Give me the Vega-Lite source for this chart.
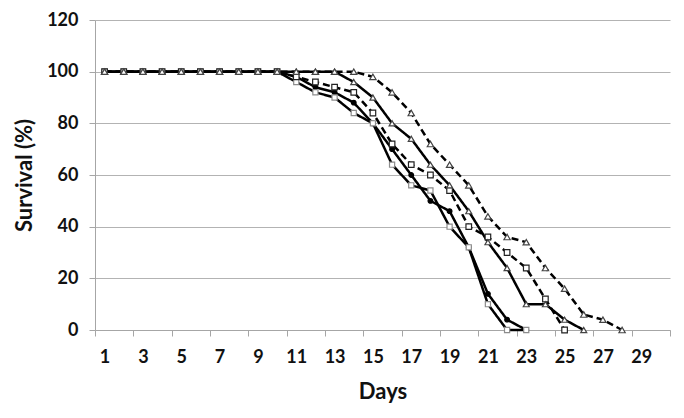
{
  "$schema": "https://vega.github.io/schema/vega-lite/v6.json",
  "width": 575,
  "height": 310,
  "autosize": "none",
  "padding": {"left": 95, "top": 20, "right": 14, "bottom": 88},
  "background": "white",
  "config": {"view": {"stroke": null}, "font": "Lato"},
  "datasets": {
    "surv": [
      {"day":1,"s":"A","v":100},{"day":2,"s":"A","v":100},{"day":3,"s":"A","v":100},{"day":4,"s":"A","v":100},{"day":5,"s":"A","v":100},{"day":6,"s":"A","v":100},{"day":7,"s":"A","v":100},{"day":8,"s":"A","v":100},{"day":9,"s":"A","v":100},{"day":10,"s":"A","v":100},{"day":11,"s":"A","v":98},{"day":12,"s":"A","v":94},{"day":13,"s":"A","v":92},{"day":14,"s":"A","v":88},{"day":15,"s":"A","v":80},{"day":16,"s":"A","v":70},{"day":17,"s":"A","v":60},{"day":18,"s":"A","v":50},{"day":19,"s":"A","v":46},{"day":20,"s":"A","v":32},{"day":21,"s":"A","v":14},{"day":22,"s":"A","v":4},{"day":23,"s":"A","v":0},
      {"day":1,"s":"B","v":100},{"day":2,"s":"B","v":100},{"day":3,"s":"B","v":100},{"day":4,"s":"B","v":100},{"day":5,"s":"B","v":100},{"day":6,"s":"B","v":100},{"day":7,"s":"B","v":100},{"day":8,"s":"B","v":100},{"day":9,"s":"B","v":100},{"day":10,"s":"B","v":100},{"day":11,"s":"B","v":96},{"day":12,"s":"B","v":92},{"day":13,"s":"B","v":90},{"day":14,"s":"B","v":84},{"day":15,"s":"B","v":80},{"day":16,"s":"B","v":64},{"day":17,"s":"B","v":56},{"day":18,"s":"B","v":54},{"day":19,"s":"B","v":40},{"day":20,"s":"B","v":32},{"day":21,"s":"B","v":10},{"day":22,"s":"B","v":0},{"day":23,"s":"B","v":0},
      {"day":1,"s":"C","v":100},{"day":2,"s":"C","v":100},{"day":3,"s":"C","v":100},{"day":4,"s":"C","v":100},{"day":5,"s":"C","v":100},{"day":6,"s":"C","v":100},{"day":7,"s":"C","v":100},{"day":8,"s":"C","v":100},{"day":9,"s":"C","v":100},{"day":10,"s":"C","v":100},{"day":11,"s":"C","v":98},{"day":12,"s":"C","v":96},{"day":13,"s":"C","v":94},{"day":14,"s":"C","v":92},{"day":15,"s":"C","v":84},{"day":16,"s":"C","v":72},{"day":17,"s":"C","v":64},{"day":18,"s":"C","v":60},{"day":19,"s":"C","v":54},{"day":20,"s":"C","v":40},{"day":21,"s":"C","v":36},{"day":22,"s":"C","v":30},{"day":23,"s":"C","v":24},{"day":24,"s":"C","v":12},{"day":25,"s":"C","v":0},
      {"day":1,"s":"D","v":100},{"day":2,"s":"D","v":100},{"day":3,"s":"D","v":100},{"day":4,"s":"D","v":100},{"day":5,"s":"D","v":100},{"day":6,"s":"D","v":100},{"day":7,"s":"D","v":100},{"day":8,"s":"D","v":100},{"day":9,"s":"D","v":100},{"day":10,"s":"D","v":100},{"day":11,"s":"D","v":100},{"day":12,"s":"D","v":100},{"day":13,"s":"D","v":100},{"day":14,"s":"D","v":96},{"day":15,"s":"D","v":90},{"day":16,"s":"D","v":80},{"day":17,"s":"D","v":74},{"day":18,"s":"D","v":64},{"day":19,"s":"D","v":56},{"day":20,"s":"D","v":46},{"day":21,"s":"D","v":34},{"day":22,"s":"D","v":24},{"day":23,"s":"D","v":10},{"day":24,"s":"D","v":10},{"day":25,"s":"D","v":4},{"day":26,"s":"D","v":0},
      {"day":1,"s":"E","v":100},{"day":2,"s":"E","v":100},{"day":3,"s":"E","v":100},{"day":4,"s":"E","v":100},{"day":5,"s":"E","v":100},{"day":6,"s":"E","v":100},{"day":7,"s":"E","v":100},{"day":8,"s":"E","v":100},{"day":9,"s":"E","v":100},{"day":10,"s":"E","v":100},{"day":11,"s":"E","v":100},{"day":12,"s":"E","v":100},{"day":13,"s":"E","v":100},{"day":14,"s":"E","v":100},{"day":15,"s":"E","v":98},{"day":16,"s":"E","v":92},{"day":17,"s":"E","v":84},{"day":18,"s":"E","v":72},{"day":19,"s":"E","v":64},{"day":20,"s":"E","v":56},{"day":21,"s":"E","v":44},{"day":22,"s":"E","v":36},{"day":23,"s":"E","v":34},{"day":24,"s":"E","v":24},{"day":25,"s":"E","v":16},{"day":26,"s":"E","v":6},{"day":27,"s":"E","v":4},{"day":28,"s":"E","v":0}
    ]
  },
  "data": {"name": "surv"},
  "encoding": {
    "y": {
      "field": "v", "type": "quantitative",
      "scale": {"domain": [0, 120], "nice": false, "zero": true},
      "axis": {
        "values": [0, 20, 40, 60, 80, 100, 120],
        "title": "Survival (%)",
        "titleFont": "Lato", "titleFontSize": 22, "titleFontWeight": "bold", "titleColor": "#111",
        "titlePadding": 10,
        "labelFont": "Lato", "labelFontSize": 18, "labelFontWeight": "bold", "labelColor": "#111",
        "labelPadding": 11,
        "grid": true, "gridColor": "#b3b3b3", "gridWidth": 1.2,
        "domainColor": "#a6a6a6", "tickColor": "#a6a6a6", "tickSize": 6
      }
    }
  },
  "layer": [
    {
      "mark": {"type": "line", "strokeWidth": 2.5, "color": "#000"},
      "encoding": {
        "x": {
          "field": "day", "type": "quantitative",
          "scale": {"domain": [0.5, 30.5], "nice": false, "zero": false},
          "axis": {
            "values": [0.5, 2.5, 4.5, 6.5, 8.5, 10.5, 12.5, 14.5, 16.5, 18.5, 20.5, 22.5, 24.5, 26.5, 28.5, 30.5],
            "orient": "bottom",
            "labels": false, "grid": false,
            "domainColor": "#a6a6a6", "tickColor": "#a6a6a6", "tickSize": 6,
            "title": "Days",
            "titleFont": "Lato", "titleFontSize": 22, "titleFontWeight": "bold", "titleColor": "#111",
            "titlePadding": 45
          }
        },
        "detail": {"field": "s"},
        "strokeDash": {
          "field": "s", "type": "nominal",
          "scale": {"domain": ["A", "B", "C", "D", "E"], "range": [[1, 0], [1, 0], [7, 4], [1, 0], [7, 4]]},
          "legend": null
        }
      }
    },
    {
      "mark": {"type": "point", "filled": false, "strokeWidth": 1.2, "opacity": 1},
      "encoding": {
        "x": {
          "field": "day", "type": "quantitative",
          "axis": {
            "values": [1, 3, 5, 7, 9, 11, 13, 15, 17, 19, 21, 23, 25, 27, 29],
            "orient": "bottom",
            "ticks": false, "domain": false, "grid": false,
            "labelFont": "Lato", "labelFontSize": 18, "labelFontWeight": "bold", "labelColor": "#111",
            "labelPadding": 18,
            "title": null
          }
        },
        "shape": {
          "field": "s", "type": "nominal",
          "scale": {"domain": ["A", "B", "C", "D", "E"], "range": ["circle", "square", "square", "triangle-up", "triangle-up"]},
          "legend": null
        },
        "fill": {
          "field": "s", "type": "nominal",
          "scale": {"domain": ["A", "B", "C", "D", "E"], "range": ["#000000", "#ffffff", "#ffffff", "#ffffff", "#ffffff"]},
          "legend": null
        },
        "stroke": {
          "field": "s", "type": "nominal",
          "scale": {"domain": ["A", "B", "C", "D", "E"], "range": ["#000000", "#8c8c8c", "#222222", "#444444", "#444444"]},
          "legend": null
        },
        "size": {
          "field": "s", "type": "nominal",
          "scale": {"domain": ["A", "B", "C", "D", "E"], "range": [22, 40, 40, 80, 80]},
          "legend": null
        }
      }
    }
  ],
  "resolve": {"axis": {"x": "independent"}}
}
